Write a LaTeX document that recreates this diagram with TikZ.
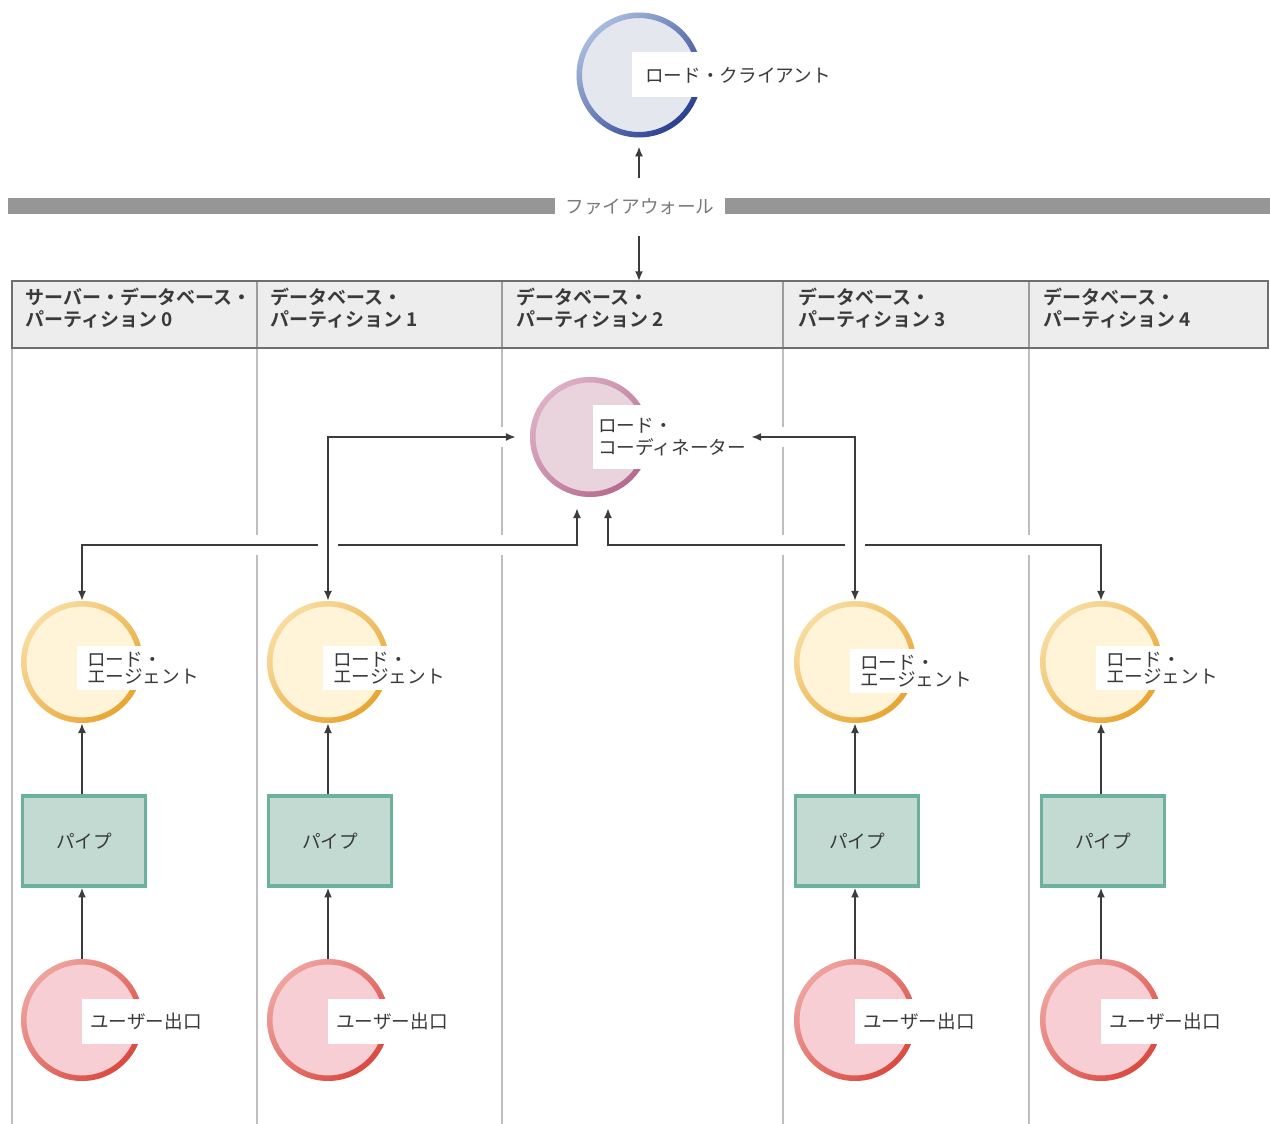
\documentclass[tikz,border=0pt]{standalone}
\usepackage{fontspec}
\setmainfont{Noto Sans CJK JP}[BoldFont={Noto Sans CJK JP Bold}]
\usepackage{tikz}
\usetikzlibrary{arrows.meta}

\definecolor{txt}{HTML}{3A3A3A}
\definecolor{wallgray}{HTML}{969696}
\definecolor{fwtext}{HTML}{7A7A7A}
\definecolor{hdrfill}{HTML}{EDEDED}
\definecolor{hdrline}{HTML}{6F6F6F}
\definecolor{hdrsep}{HTML}{9C9C9C}
\definecolor{partline}{HTML}{BEBEBE}
\definecolor{conn}{HTML}{3C3C3C}
\definecolor{clfill}{HTML}{E5E7EF}
\definecolor{clA}{HTML}{A9BBDD}
\definecolor{clB}{HTML}{2B3F90}
\definecolor{cofill}{HTML}{E9D4DE}
\definecolor{coA}{HTML}{DDB0C5}
\definecolor{coB}{HTML}{B56B8E}
\definecolor{agfill}{HTML}{FFF4D8}
\definecolor{agA}{HTML}{F8DCA0}
\definecolor{agB}{HTML}{E8A532}
\definecolor{exfill}{HTML}{F6CED4}
\definecolor{exA}{HTML}{EFA39E}
\definecolor{exB}{HTML}{DA4A40}
\definecolor{pifill}{HTML}{C3DAD3}
\definecolor{pibord}{HTML}{6CB19E}

\newcommand\ringshade[4]{\shade[even odd rule, left color=#3, right color=#4, shading angle=45] (#1.center) circle (#2) circle ({#2-0.11cm});}

\begin{document}
\begin{tikzpicture}[x=0.02cm, y=-0.02cm,
	lbl/.style={font=\fontsize{10.6pt}{12.5pt}\selectfont, text=txt, align=left, inner ysep=0},
	hdr/.style={lbl, font=\fontsize{10.8pt}{12.5pt}\selectfont\bfseries, anchor=west, inner sep=0},
	whitebox/.style={lbl, fill=white, anchor=west, minimum height=0.9cm},
	ball/.style={circle, inner sep=0, minimum size=2.44cm},
	pipebox/.style={lbl, draw=pibord, line width=2pt, fill=pifill, minimum width=2.46cm, minimum height=1.8cm, align=center},
	arr/.style={-{Latex[length=5.5pt,width=4.5pt]}, line width=0.9pt, draw=conn},
	biarr/.style={{Latex[length=5.5pt,width=4.5pt]}-{Latex[length=5.5pt,width=4.5pt]}, line width=0.9pt, draw=conn},
	cased/.style={preaction={draw=white, line width=0.4cm, arrows=-}}
]
\useasboundingbox (0,0) rectangle (1270,1124);

\fill[wallgray] (8,198) rectangle (555,214);
\fill[wallgray] (725,198) rectangle (1270,214);
\node[lbl, text=fwtext] (fw) at (640,207) {ファイアウォール};
\coordinate (fwup) at (639,178);
\coordinate (fwdn) at (639,236);

\fill[hdrfill] (12,281) rectangle (1268,348);
\foreach \px in {12,257,502,783,1029}
	\draw[partline, line width=1.1pt] (\px,348) -- (\px,1124);
\foreach \px in {257,502,783,1029}
	\draw[hdrsep, line width=1.1pt] (\px,281) -- (\px,348);
\draw[hdrline, line width=1.5pt] (12,281) rectangle (1268,348);
\coordinate (tbltop) at (639,281);

\node[hdr] (h0) at (25,308) {サーバー・データベース・\\パーティション 0};
\node[hdr] (h1) at (270,308) {データベース・\\パーティション 1};
\node[hdr] (h2) at (516,308) {データベース・\\パーティション 2};
\node[hdr] (h3) at (798,308) {データベース・\\パーティション 3};
\node[hdr] (h4) at (1043,308) {データベース・\\パーティション 4};

\node[ball, fill=clfill, minimum size=2.5cm] (cl) at (639,75) {};
\node[ball, fill=cofill, minimum size=2.4cm] (co) at (590,437) {};
\node[ball, fill=agfill] (a0) at (82,662) {};
\node[ball, fill=agfill] (a1) at (328,662) {};
\node[ball, fill=agfill] (a3) at (855,662) {};
\node[ball, fill=agfill] (a4) at (1101,662) {};
\node[ball, fill=exfill] (e0) at (82,1020) {};
\node[ball, fill=exfill] (e1) at (328,1020) {};
\node[ball, fill=exfill] (e3) at (855,1020) {};
\node[ball, fill=exfill] (e4) at (1101,1020) {};

\ringshade{cl}{1.25cm}{clA}{clB}
\ringshade{co}{1.2cm}{coA}{coB}
\foreach \n in {a0,a1,a3,a4}
	{\ringshade{\n}{1.22cm}{agA}{agB}}
\foreach \n in {e0,e1,e3,e4}
	{\ringshade{\n}{1.22cm}{exA}{exB}}

\node[pipebox] (p0) at (84,841) {パイプ};
\node[pipebox] (p1) at (330,841) {パイプ};
\node[pipebox] (p3) at (857,841) {パイプ};
\node[pipebox] (p4) at (1103,841) {パイプ};

\node[whitebox, inner xsep=0.26cm] (cllbl) at (632,75) {ロード・クライアント};
\node[whitebox, inner xsep=0.1cm, minimum height=1.3cm, font=\fontsize{10.6pt}{12.5pt}\selectfont] (colbl) at (593,437) {ロード・\\コーディネーター};
\node[whitebox, inner xsep=0.2cm, font=\fontsize{10.6pt}{9.6pt}\selectfont] (a0lbl) at (77,668) {ロード・\\エージェント};
\node[whitebox, inner xsep=0.2cm, font=\fontsize{10.6pt}{9.6pt}\selectfont] (a1lbl) at (323,668) {ロード・\\エージェント};
\node[whitebox, inner xsep=0.2cm, font=\fontsize{10.6pt}{9.6pt}\selectfont] (a3lbl) at (850,671) {ロード・\\エージェント};
\node[whitebox, inner xsep=0.2cm, font=\fontsize{10.6pt}{9.6pt}\selectfont] (a4lbl) at (1096,668) {ロード・\\エージェント};
\node[whitebox, inner xsep=0.16cm] (e0lbl) at (82,1021) {ユーザー出口};
\node[whitebox, inner xsep=0.16cm] (e1lbl) at (328,1021) {ユーザー出口};
\node[whitebox, inner xsep=0.16cm] (e3lbl) at (855,1021) {ユーザー出口};
\node[whitebox, inner xsep=0.16cm] (e4lbl) at (1101,1021) {ユーザー出口};

\draw[arr, shorten >=5pt] (fwup) -- (cl.south);
\draw[arr] (fwdn) -- (tbltop);

\path (co.south) ++(-13,11) coordinate (cin0);
\path (co.south) ++(18,11) coordinate (cin1);
\coordinate (bus0) at (577,545);
\coordinate (bus1) at (608,545);
\draw[biarr, cased] (a0.north) |- (bus0) -- (cin0);
\draw[biarr, cased] (cin1) -- (bus1) -| (a4.north);
\draw[biarr, cased, shorten >=8pt] (a1.north) |- (co.west);
\draw[biarr, cased] (a3.north) |- (colbl.east);

\foreach \n in {0,1,3,4} {
	\draw[arr] (p\n.north -| a\n) -- (a\n.south);
	\draw[arr] (e\n.north) -- (p\n.south -| e\n);
}
\end{tikzpicture}
\end{document}
